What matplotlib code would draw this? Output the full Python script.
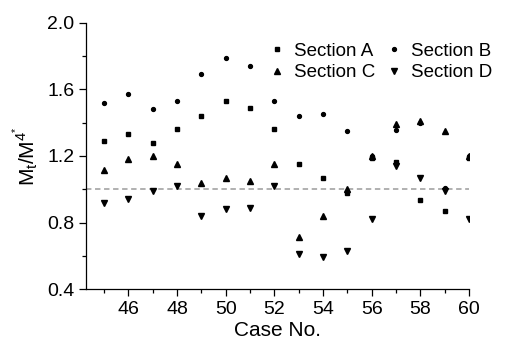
import numpy as np
import matplotlib.pyplot as plt
from matplotlib.ticker import MultipleLocator

plt.rcParams['font.family'] = ['Liberation Sans', 'DejaVu Sans']
plt.rcParams['mathtext.fontset'] = 'custom'
plt.rcParams['mathtext.rm'] = 'Liberation Sans'
plt.rcParams['mathtext.it'] = 'Liberation Sans:italic'

cases = [45, 46, 47, 48, 49, 50, 51, 52, 53, 54, 55, 56, 57, 58, 59, 60]
section_a = [1.29, 1.335, 1.28, 1.36, 1.44, 1.53, 1.49, 1.36, 1.15, 1.07, 0.98, 1.19, 1.165, 0.935, 0.87, 1.19]
section_b = [1.52, 1.57, 1.48, 1.53, 1.69, 1.79, 1.74, 1.53, 1.44, 1.45, 1.35, 1.20, 1.355, 1.40, 1.005, 1.20]
section_c = [1.115, 1.18, 1.20, 1.15, 1.04, 1.07, 1.05, 1.15, 0.71, 0.84, 1.00, 1.20, 1.39, 1.41, 1.35, 1.20]
section_d = [0.915, 0.94, 0.99, 1.02, 0.84, 0.88, 0.89, 1.02, 0.61, 0.59, 0.63, 0.82, 1.14, 1.066, 0.99, 0.82]

fig = plt.figure(figsize=(5.06, 3.47), dpi=100)
ax = fig.add_axes([0.17, 0.167, 0.757, 0.767])

ax.axhline(1.0, color='#aaaaaa', linestyle=(0, (3, 2)), linewidth=1.3, zorder=1)

la, = ax.plot(cases, section_a, 's', color='black', markersize=2.3, label='Section A')
lb, = ax.plot(cases, section_b, 'o', color='black', markersize=2.8, label='Section B')
lc, = ax.plot(cases, section_c, '^', color='black', markersize=4.3, label='Section C')
ld, = ax.plot(cases, section_d, 'v', color='black', markersize=4.3, label='Section D')

ax.set_xlim(44.26, 60)
ax.set_ylim(0.4, 2.0)
ax.xaxis.set_major_locator(MultipleLocator(2))
ax.xaxis.set_minor_locator(MultipleLocator(1))
ax.yaxis.set_major_locator(MultipleLocator(0.4))
ax.yaxis.set_minor_locator(MultipleLocator(0.2))
ax.set_xticks(np.arange(46, 61, 2))
ax.tick_params(which='major', direction='out', length=5, width=0.9, labelsize=14)
ax.tick_params(which='minor', direction='out', length=3, width=0.9)
ax.yaxis.set_major_formatter(plt.FormatStrFormatter('%.1f'))

for side in ['top', 'right']:
    ax.spines[side].set_visible(False)
for side in ['left', 'bottom']:
    ax.spines[side].set_linewidth(0.9)

ax.set_xlabel('Case No.', fontsize=15, labelpad=2)
ax.set_ylabel(r'M$_{\mathrm{t}}$/M$^{4^{*}}$', fontsize=15, labelpad=4)

ax.legend([la, lc, lb, ld], ['Section A', 'Section C', 'Section B', 'Section D'],
          ncol=2, loc='upper left', bbox_to_anchor=(0.46, 0.955), frameon=False,
          fontsize=13.5, handlelength=0.8, handletextpad=0.5, columnspacing=0.6,
          labelspacing=0.25, borderaxespad=0)

plt.savefig('out.png', dpi=100)
